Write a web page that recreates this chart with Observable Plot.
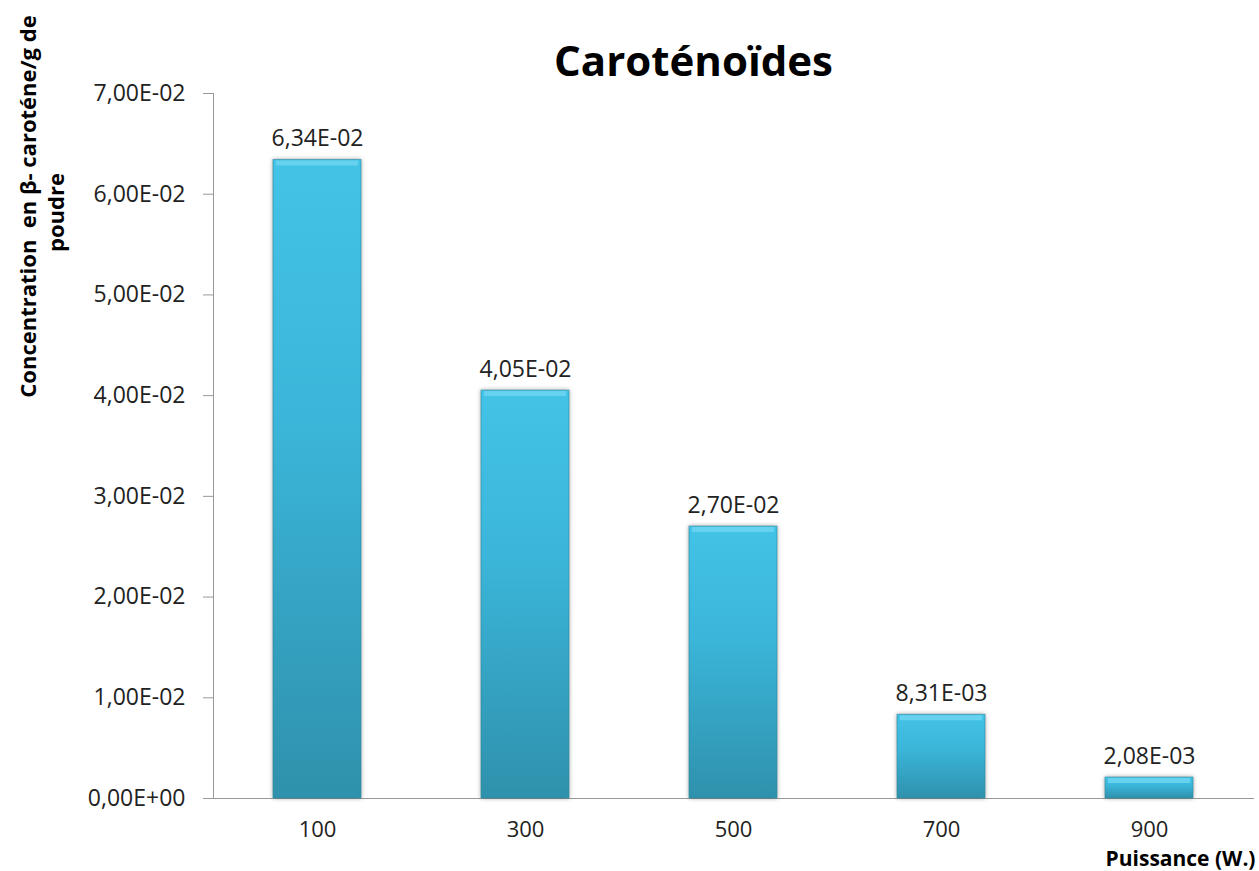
<!DOCTYPE html>
<html>
<head>
<meta charset="utf-8">
<script src="https://cdn.jsdelivr.net/npm/d3@7"></script>
<script src="https://cdn.jsdelivr.net/npm/@observablehq/plot@0.6"></script>
<style>
  html, body { margin: 0; padding: 0; background: #fff; }
  #chart svg [aria-label^="y-axis"] text,
  #chart svg [aria-label^="x-axis"] text { fill: #222; }
  #chart svg [aria-label^="x-axis"] text { font-size: 22px; }
  #chart svg [aria-label="bar"] rect { filter: drop-shadow(0px 0px 2px rgba(0,0,0,0.35)); }
</style>
</head>
<body>
<svg width="0" height="0" style="position:absolute">
  <defs>
    <linearGradient id="barGrad" x1="0" y1="0" x2="0" y2="1">
      <stop offset="0" stop-color="#43c3e6"/>
      <stop offset="0.4" stop-color="#3bb6da"/>
      <stop offset="1" stop-color="#2f91ac"/>
    </linearGradient>
  </defs>
</svg>
<div id="chart"></div>
<script>
const categories = ["100", "300", "500", "700", "900"];
const values = [0.0634, 0.0405, 0.0270, 0.00831, 0.00208];
const yTicks = [0, 0.01, 0.02, 0.03, 0.04, 0.05, 0.06, 0.07];
const title = "Caroténoïdes";
const yLabel1 = "Concentration  en β- caroténe/g de";
const yLabel2 = "poudre";
const xLabel = "Puissance (W.)";

const data = categories.map((c, i) => ({cat: c, value: values[i]}));

function fmt(v) {
  const [m, e] = v.toExponential(2).split("e");
  const ex = +e;
  return m.replace(".", ",") + "E" + (ex < 0 ? "-" : "+") + String(Math.abs(ex)).padStart(2, "0");
}

const font = "'Open Sans', sans-serif";

const chart = Plot.plot({
  width: 1259,
  height: 871,
  marginLeft: 213,
  marginRight: 6,
  marginTop: 93,
  marginBottom: 73,
  style: {fontFamily: font, fontSize: "23px", color: "#999", background: "#fff", overflow: "visible"},
  x: {domain: categories, paddingInner: 0.577, paddingOuter: 0.2885, label: null, tickSize: 0, tickPadding: 23, line: true},
  y: {domain: [0, 0.07], ticks: yTicks, tickFormat: fmt, label: null, tickSize: 10, tickPadding: 18, line: true},
  marks: [
    Plot.barY(data, {x: "cat", y: "value", fill: "url(#barGrad)", stroke: "#2a88a2", strokeOpacity: 0.6, strokeWidth: 1}),
    Plot.tickY(data, {x: "cat", y: "value", stroke: "#66d2ef", strokeWidth: 5, dy: 3, insetLeft: 3, insetRight: 3}),
    Plot.text(data, {x: "cat", y: "value", text: d => fmt(d.value), fill: "#222", lineAnchor: "bottom", dy: -14, fontSize: 23}),
    Plot.text([title], {frameAnchor: "top-left", dx: 480, dy: -18, lineAnchor: "bottom", textAnchor: "middle", fill: "#000", fontSize: 42, fontWeight: "bold"}),
    Plot.text([yLabel1], {frameAnchor: "top-left", dx: -178, dy: 113, rotate: -90, lineAnchor: "bottom", textAnchor: "middle", fill: "#000", fontSize: 22, fontWeight: "bold"}),
    Plot.text([yLabel2], {frameAnchor: "top-left", dx: -150, dy: 119, rotate: -90, lineAnchor: "bottom", textAnchor: "middle", fill: "#000", fontSize: 22, fontWeight: "bold"}),
    Plot.text([xLabel], {frameAnchor: "bottom-right", dx: 2, dy: 67, lineAnchor: "bottom", textAnchor: "end", fill: "#000", fontSize: 21, fontWeight: "bold"})
  ]
});
document.getElementById("chart").appendChild(chart);
</script>
</body>
</html>
